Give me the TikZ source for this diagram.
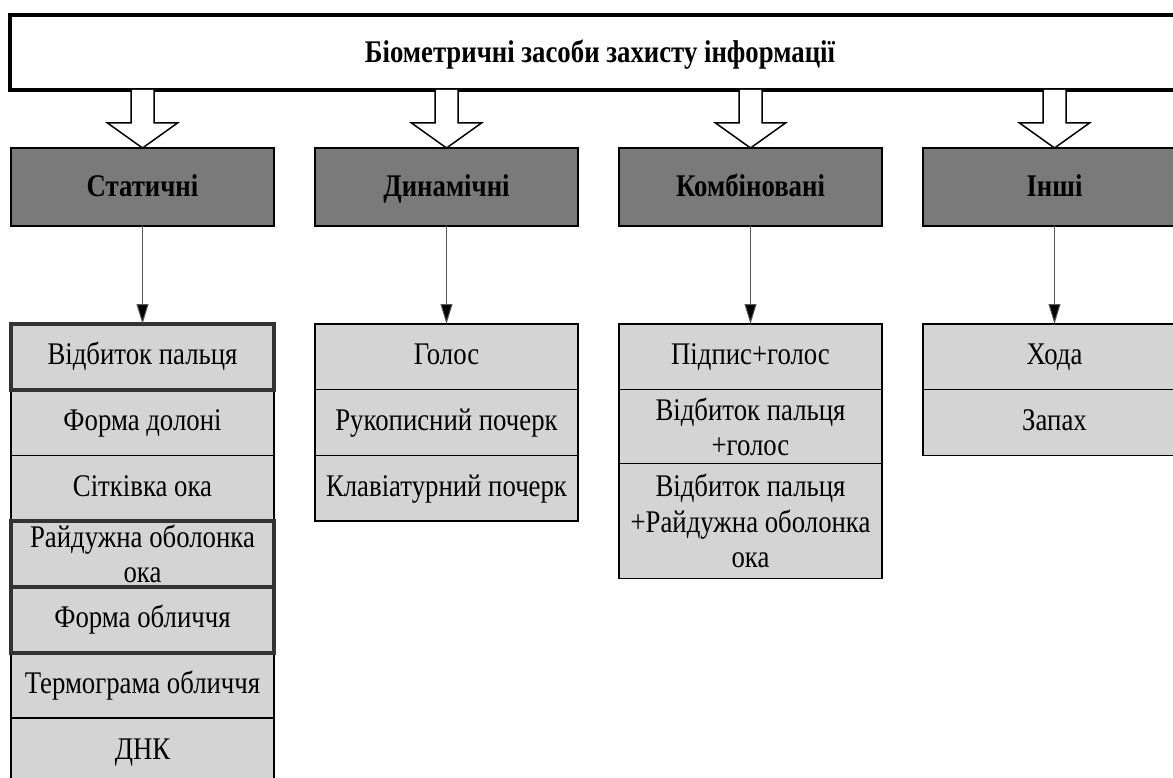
\documentclass[tikz,border=0pt]{standalone}
\usepackage{fontspec}
\setmainfont{Liberation Serif}[FakeStretch=0.85]
\usetikzlibrary{positioning,calc,arrows.meta}
\definecolor{headgray}{gray}{0.48}
\definecolor{itemgray}{gray}{0.83}

\begin{document}
\begin{tikzpicture}[
    x=1pt, y=-1pt,
    node distance=0pt,
    titlebox/.style={rectangle, draw, line width=4pt, fill=white, minimum width=1180pt, minimum height=75pt, outer sep=0pt, text height=23pt, text depth=2pt, font=\bfseries\fontsize{31.5}{35.5}\selectfont},
    head/.style={rectangle, draw, line width=1.5pt, fill=headgray, minimum width=263pt, minimum height=78pt, outer sep=0pt, text height=23pt, text depth=3pt, font=\bfseries\fontsize{31.5}{35.5}\selectfont},
    cell/.style={rectangle, draw, line width=1.5pt, fill=itemgray, minimum width=263pt, minimum height=65.7pt, inner sep=0pt, outer sep=0pt, align=center, font=\fontsize{31.5}{35.5}\selectfont},
    item/.style={cell, text height=22pt, text depth=6pt},
    boldframe/.style={draw=black!80, line width=4pt},
    hollow/.style={draw, line width=1.5pt, fill=white},
    link/.style={draw=black!65, line width=1pt, -{Triangle[length=20pt, width=12pt, fill=black]}}
]
    \useasboundingbox (0,0) rectangle (1173,778);

    \node[titlebox] (title) at (600,52.5) {Біометричні засоби захисту інформації};

    \node[head] (stat) at (142.5,187) {Статичні};
    \node[head, right=41pt of stat] (dyn) {Динамічні};
    \node[head, right=41pt of dyn] (comb) {Комбіновані};
    \node[head, right=41pt of comb] (other) {Інші};

    % static
    \node[item, below=98pt of stat] (s1) {Відбиток пальця};
    \node[item, below=of s1] (s2) {Форма долоні};
    \node[item, below=of s2] (s3) {Сітківка ока};
    \node[cell, below=of s3] (s4) {Райдужна оболонка\\ока};
    \node[item, below=of s4] (s5) {Форма обличчя};
    \node[item, below=of s5] (s6) {Термограма обличчя};
    \node[item, below=of s6] (s7) {ДНК};

    % dynamic
    \node[item, below=98pt of dyn] (d1) {Голос};
    \node[item, below=of d1] (d2) {Рукописний почерк};
    \node[item, below=of d2] (d3) {Клавіатурний почерк};

    % combined
    \node[item, below=98pt of comb] (c1) {Підпис+голос};
    \node[cell, below=of c1, minimum height=74pt] (c2) {Відбиток пальця\\+голос};
    \node[cell, below=of c2, minimum height=115pt] (c3) {Відбиток пальця\\+Райдужна оболонка\\ока};

    % other
    \node[item, below=98pt of other] (o1) {Хода};
    \node[item, below=of o1] (o2) {Запах};

    \foreach \n in {s1,s4,s5}
        \draw[boldframe] (\n.north west) rectangle (\n.south east);

    \foreach \h in {stat,dyn,comb,other}
        \draw[hollow] ($(title.south -| \h.north)+(-11.5,0)$) -- ($(\h.north)+(-11.5,-25)$)
            -- ($(\h.north)+(-35,-25)$) -- (\h.north) -- ($(\h.north)+(35,-25)$)
            -- ($(\h.north)+(11.5,-25)$) -- ($(title.south -| \h.north)+(11.5,0)$);

    \draw[link] (stat) -- (s1);
    \draw[link] (dyn) -- (d1);
    \draw[link] (comb) -- (c1);
    \draw[link] (other) -- (o1);
\end{tikzpicture}
\end{document}
